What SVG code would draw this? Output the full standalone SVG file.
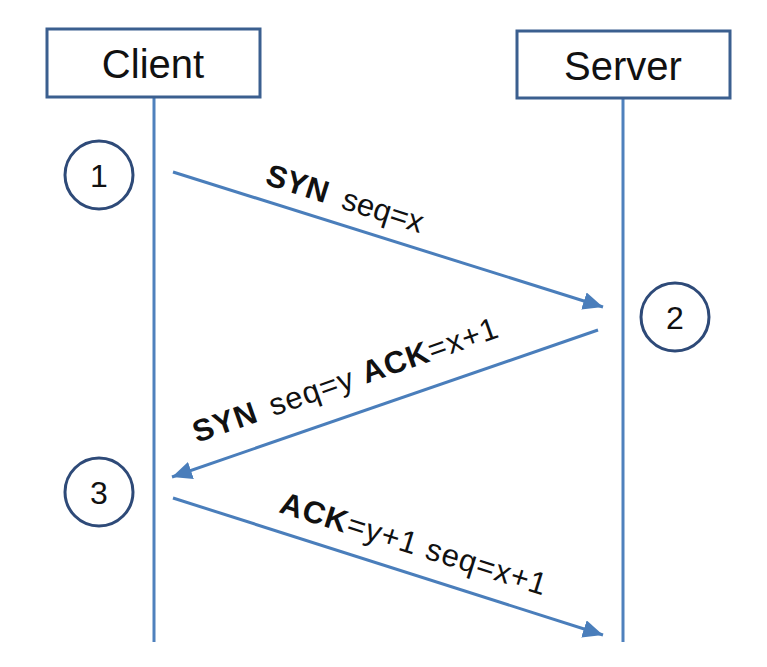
<svg xmlns="http://www.w3.org/2000/svg" width="767" height="667" viewBox="0 0 767 667">
<style>
.box{fill:#fff;stroke:#3b5f8f;stroke-width:3}
.life{stroke:#4f81bd;stroke-width:3;fill:none}
.circ{fill:#fff;stroke:#2e4a78;stroke-width:3}
.msg{stroke:#4a7ebb;stroke-width:3;fill:none;marker-end:url(#ah)}
.t{font-family:"Liberation Sans",Arial,sans-serif;fill:#111}
.lbl{font-family:"Liberation Sans",Arial,sans-serif;fill:#111;font-size:31px}
.ls{letter-spacing:1px}
.b{font-weight:bold}
</style>
<defs>
<marker id="ah" markerUnits="userSpaceOnUse" markerWidth="22" markerHeight="18" refX="20" refY="9" orient="auto">
<path d="M0,0 L20,9 L0,18 Z" fill="#4a7ebb"/>
</marker>
</defs>
<g id="client">
<line class="life" x1="154" y1="97" x2="154" y2="642"/>
<rect class="box" x="47" y="29" width="213" height="68"/>
<text class="t" x="153" y="78" font-size="40" text-anchor="middle">Client</text>
</g>
<g id="server">
<line class="life" x1="623" y1="98" x2="623" y2="642"/>
<rect class="box" x="517" y="31" width="213" height="67"/>
<text class="t" x="623" y="80" font-size="40" text-anchor="middle">Server</text>
</g>
<g id="step1">
<circle class="circ" cx="99" cy="175" r="34"/>
<text class="t" x="99" y="187" font-size="32" text-anchor="middle">1</text>
</g>
<g id="step2">
<circle class="circ" cx="675" cy="317" r="34"/>
<text class="t" x="675" y="329" font-size="32" text-anchor="middle">2</text>
</g>
<g id="step3">
<circle class="circ" cx="99" cy="492" r="34"/>
<text class="t" x="99" y="504" font-size="32" text-anchor="middle">3</text>
</g>
<g id="connectors">
<line class="msg" x1="173" y1="172" x2="603" y2="307"/>
<line class="msg" x1="598" y1="330" x2="172" y2="477"/>
<line class="msg" x1="173" y1="498" x2="603" y2="635"/>
<text class="lbl" transform="translate(264,184) rotate(17.5)"><tspan class="b">SYN</tspan><tspan dx="16">seq=x</tspan></text>
<text class="lbl ls" transform="translate(197,443) rotate(-19.3)"><tspan class="b">SYN</tspan><tspan dx="14">seq=y </tspan><tspan class="b">ACK</tspan><tspan>=x+1</tspan></text>
<text class="lbl ls" transform="translate(278,512) rotate(17.5)"><tspan class="b">ACK</tspan><tspan>=y+1 seq=x+1</tspan></text>
</g>
</svg>
